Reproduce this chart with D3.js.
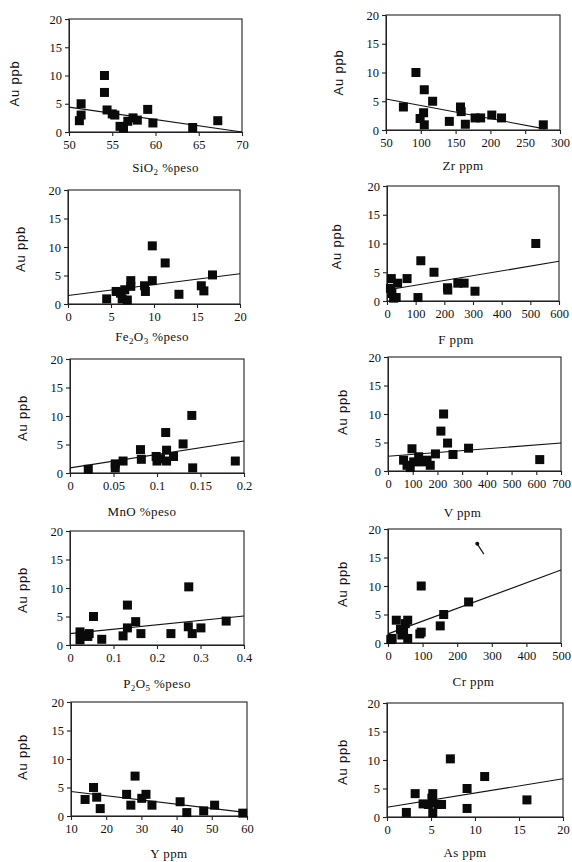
<!DOCTYPE html>
<html><head><meta charset="utf-8">
<script src="https://cdn.jsdelivr.net/npm/d3@7"></script>
<style>body{margin:0;background:#fff}svg{display:block}</style></head>
<body><svg id="c" width="572" height="862"></svg>
<script>
// ---------- data ----------
const auTicks = [0, 5, 10, 15, 20];
const yTitle = "Au ppb";

const sio2Ticks = [50, 55, 60, 65, 70];
const sio2Points = [[51.2,2],[51.4,3],[51.4,5],[54.1,10],[54.1,7],[54.4,3.9],[55,3.2],[55.3,3],[55.9,1],[56.3,0.7],[56.8,1.9],[57.4,2.5],[57.9,2.1],[59.1,4],[59.7,1.6],[64.3,0.8],[67.2,2]];
const sio2Fit = [[50,4.4],[70,0]];

const zrTicks = [50, 100, 150, 200, 250, 300];
const zrPoints = [[75,4],[93,10],[105,7],[117,5],[99,2],[104,3],[105,0.9],[141,1.5],[157,4],[158,3.2],[164,1],[178,2.1],[186,2.1],[202,2.6],[216,2.1],[276,0.9]];
const zrFit = [[50,5.4],[278,0.2]];

const fe2o3Ticks = [0, 5, 10, 15, 20];
const fe2o3Points = [[4.5,0.9],[5.6,2.2],[6.1,1.9],[6.3,0.9],[6.6,2.5],[6.9,0.7],[7.3,4.1],[7.3,3.1],[8.9,3.2],[9,2.2],[9.8,10.2],[9.8,4.1],[11.3,7.2],[12.9,1.7],[15.5,3.2],[15.8,2.3],[16.8,5.1]];
const fe2o3Fit = [[0,1.5],[20,5.3]];

const fTicks = [0, 100, 200, 300, 400, 500, 600];
const fPoints = [[15,3.9],[12,2.2],[17,1.3],[23,0.5],[37,3.1],[32,0.6],[70,3.9],[108,0.6],[118,7],[164,5],[211,2.3],[212,1.9],[247,3.1],[269,3.1],[307,1.7],[519,10]];
const fFit = [[0,1.9],[600,6.9]];

const mnoTicks = [0, 0.05, 0.1, 0.15, 0.2];
const mnoPoints = [[0.021,0.65],[0.052,1.6],[0.052,0.9],[0.061,2.1],[0.081,4.1],[0.082,2.4],[0.099,2.9],[0.1,2.1],[0.104,2.5],[0.11,7.1],[0.111,4],[0.111,2.1],[0.119,2.9],[0.13,5.1],[0.14,10.1],[0.141,0.9],[0.19,2.1]];
const mnoFit = [[0,0.9],[0.2,5.6]];

const vTicks = [0, 100, 200, 300, 400, 500, 600, 700];
const vPoints = [[97,3.9],[63,1.9],[77,1],[90,0.6],[104,1.6],[124,2.5],[138,1.6],[158,1.9],[171,1],[192,3],[214,7],[225,10],[241,4.9],[263,2.9],[326,4],[614,2]];
const vFit = [[0,2.6],[700,4.9]];

const p2o5Ticks = [0, 0.1, 0.2, 0.3, 0.4];
const p2o5Points = [[0.023,2.3],[0.023,0.9],[0.034,1.7],[0.041,1.5],[0.044,2],[0.054,5],[0.073,1],[0.122,1.6],[0.132,3],[0.132,7],[0.151,4.1],[0.163,2],[0.232,2],[0.273,10.2],[0.272,3.2],[0.281,2],[0.301,3],[0.359,4.2]];
const p2o5Fit = [[0,2.0],[0.4,5.1]];

const crTicks = [0, 100, 200, 300, 400, 500];
const crPoints = [[8,0.6],[12,0.8],[24,4],[36,2.4],[40,1.4],[45,1.9],[50,3.4],[57,4],[57,0.8],[92,1.6],[96,10],[96,1.9],[151,3],[161,5],[233,7.2]];
const crFit = [[0,1.6],[500,12.8]];
const crStray = [[258,17.4],[277,15.6]];

const yTicks = [10, 20, 30, 40, 50, 60];
const yPoints = [[14,2.9],[16.4,5],[17.3,3.3],[18.3,1.3],[25.8,3.8],[27,1.9],[28.2,7],[30.1,3.1],[31.3,3.8],[33,1.9],[41,2.5],[42.9,0.6],[47.7,0.9],[50.8,1.9],[58.8,0.5]];
const yFit = [[10,4.3],[60,0.6]];

const asTicks = [0, 5, 10, 15, 20];
const asPoints = [[2.2,0.8],[3.2,4.1],[4.1,2.3],[4.7,2.2],[5.1,3.3],[5.2,4.1],[5.2,2.5],[5.2,0.7],[5.8,2.2],[6.2,2.2],[7.2,10.2],[9.1,5],[9.1,1.5],[11.1,7.1],[15.9,3]];
const asFit = [[0,1.7],[20,6.7]];

// ---------- layout ----------
const panels = [
  {ticks:sio2Ticks, pts:sio2Points, fit:sio2Fit, title:"SiO_2 %peso", box:[69,19,242,132], ytx:14, yty:8, tdx:10, tdy:40},
  {ticks:zrTicks, pts:zrPoints, fit:zrFit, title:"Zr ppm", box:[386,15,560,130], ytx:338, yty:0, tdx:-10, tdy:40},
  {ticks:fe2o3Ticks, pts:fe2o3Points, fit:fe2o3Fit, title:"Fe_2O_3 %peso", box:[68,190,240,304], ytx:20, yty:2, tdx:-2, tdy:37},
  {ticks:fTicks, pts:fPoints, fit:fFit, title:"F ppm", box:[387,186,559,301], ytx:336, yty:3, tdx:-17, tdy:43},
  {ticks:mnoTicks, pts:mnoPoints, fit:mnoFit, title:"MnO %peso", box:[70,359,244,473], ytx:22, yty:2, tdx:-15, tdy:43},
  {ticks:vTicks, pts:vPoints, fit:vFit, title:"V ppm", box:[388,357,561,471], ytx:342, yty:-2, tdx:-12, tdy:46},
  {ticks:p2o5Ticks, pts:p2o5Points, fit:p2o5Fit, title:"P_2O_5 %peso", box:[70,531,244,645], ytx:22, yty:2, tdx:0, tdy:43},
  {ticks:crTicks, pts:crPoints, fit:crFit, title:"Cr ppm", box:[388,529,561,643], ytx:342, yty:-2, tdx:-1, tdy:43, stray:crStray},
  {ticks:yTicks, pts:yPoints, fit:yFit, title:"Y ppm", box:[71,702,247,816], ytx:22, yty:-2, tdx:10, tdy:42},
  {ticks:asTicks, pts:asPoints, fit:asFit, title:"As ppm", box:[387,703,563,817], ytx:342, yty:2, tdx:-10, tdy:40}
];

const svg = d3.select("#c");
svg.append("rect").attr("width",572).attr("height",862).attr("fill","#fff");
const serif = "'Liberation Serif','Times New Roman',Times,serif";
const sans = "'Liberation Sans',Arial,Helvetica,sans-serif";
const SQ = 9;

panels.forEach(p => {
  const [l,t,r,b] = p.box;
  const x = d3.scaleLinear().domain([p.ticks[0], p.ticks[p.ticks.length-1]]).range([l,r]);
  const y = d3.scaleLinear().domain([auTicks[0], auTicks[auTicks.length-1]]).range([b,t]);
  const g = svg.append("g");

  // frame
  g.append("rect").attr("x",l).attr("y",t).attr("width",r-l).attr("height",b-t)
    .attr("fill","none").attr("stroke","#222").attr("stroke-width",1.1);

  const xa = g.append("g").attr("transform",`translate(0,${b})`)
    .call(d3.axisBottom(x).tickValues(p.ticks).tickFormat(d=>String(d)).tickSize(4).tickSizeOuter(0).tickPadding(4));
  const ya = g.append("g").attr("transform",`translate(${l},0)`)
    .call(d3.axisLeft(y).tickValues(auTicks).tickFormat(d=>String(d)).tickSize(4).tickSizeOuter(0).tickPadding(3));
  [xa,ya].forEach(a => {
    a.attr("font-family",null);
    a.select(".domain").attr("stroke","#222");
    a.selectAll(".tick line").attr("stroke","#222").attr("stroke-width",1.1);
    a.selectAll(".tick text").attr("fill","#111").style("font-family",serif).style("font-size","12.5px");
  });

  // fit line
  g.append("line")
    .attr("x1",x(p.fit[0][0])).attr("y1",y(p.fit[0][1]))
    .attr("x2",x(p.fit[1][0])).attr("y2",y(p.fit[1][1]))
    .attr("stroke","#111").attr("stroke-width",1.1);

  // points
  g.selectAll("rect.pt").data(p.pts).join("rect").attr("class","pt")
    .attr("x",d=>x(d[0])-SQ/2).attr("y",d=>y(d[1])-SQ/2)
    .attr("width",SQ).attr("height",SQ).attr("fill","#0a0a0a");

  if (p.stray) {
    g.append("line").attr("x1",x(p.stray[0][0])).attr("y1",y(p.stray[0][1]))
      .attr("x2",x(p.stray[1][0])).attr("y2",y(p.stray[1][1]))
      .attr("stroke","#222").attr("stroke-width",1.3);
    g.append("circle").attr("cx",x(p.stray[0][0])).attr("cy",y(p.stray[0][1])).attr("r",2).attr("fill","#111");
  }

  // y title
  const cy = (t+b)/2 + p.yty;
  g.append("text").attr("transform",`translate(${p.ytx},${cy}) rotate(-90)`)
    .attr("text-anchor","middle").attr("dominant-baseline","central")
    .style("font-family",sans).style("font-size","13px").style("letter-spacing","0.8px")
    .attr("fill","#111").text(yTitle);

  // x title with subscripts
  const tt = g.append("text").attr("x",(l+r)/2 + p.tdx).attr("y",b + p.tdy)
    .attr("text-anchor","middle").style("font-family",serif).style("font-size","13px")
    .style("letter-spacing","0.4px").attr("fill","#111");
  const parts = p.title.split(/(_.)/).filter(s=>s.length);
  parts.forEach((s,i) => {
    if (s[0]==="_") tt.append("tspan").attr("dy",3).style("font-size","9px").text(s[1]);
    else tt.append("tspan").attr("dy", i===0 ? null : -3).text(s);
  });
});
</script></body></html>
